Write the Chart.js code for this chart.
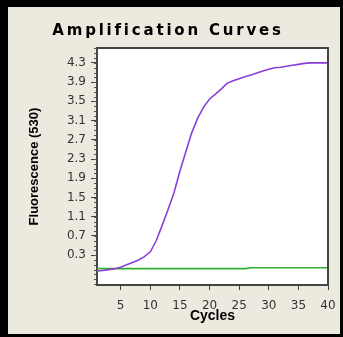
<!DOCTYPE html>
<html>
<head>
<meta charset="utf-8">
<script src="https://cdn.jsdelivr.net/npm/chart.js@4"></script>
<style>
  html, body { margin: 0; padding: 0; background: #000; }
  #frame {
    position: absolute; left: 8px; top: 7px;
    width: 332px; height: 327px;
    background: #ECE9DF;
  }
  canvas { display: block; }
</style>
</head>
<body>
<div id="frame"><canvas id="ampChart" width="332" height="327"></canvas></div>
<script>
// Cycle numbers and fluorescence readings
const cycles = [1, 2, 3, 4, 5, 6, 7, 8, 9, 10, 11, 12, 13, 14, 15, 16, 17, 18, 19, 20,
  21, 22, 23, 24, 25, 26, 27, 28, 29, 30, 31, 32, 33, 34, 35, 36, 37, 38, 39, 40];
const sampleCurve = [-0.03, -0.02, 0.0, 0.02, 0.05, 0.1, 0.15, 0.2, 0.27, 0.37,
  0.6, 0.92, 1.25, 1.6, 2.05, 2.45, 2.85, 3.15, 3.38, 3.55,
  3.65, 3.76, 3.88, 3.93, 3.97, 4.01, 4.05, 4.09, 4.13, 4.17,
  4.2, 4.21, 4.23, 4.25, 4.27, 4.29, 4.3, 4.3, 4.3, 4.3];
const controlCurve = [0.02, 0.02, 0.02, 0.02, 0.02, 0.02, 0.02, 0.02, 0.02, 0.02,
  0.02, 0.02, 0.02, 0.02, 0.02, 0.02, 0.02, 0.02, 0.02, 0.02,
  0.02, 0.02, 0.02, 0.02, 0.02, 0.02, 0.04, 0.04, 0.04, 0.04,
  0.04, 0.04, 0.04, 0.04, 0.04, 0.04, 0.04, 0.04, 0.04, 0.04];
const yTicks = [0.3, 0.7, 1.1, 1.5, 1.9, 2.3, 2.7, 3.1, 3.5, 3.9, 4.3];
const xTicks = [5, 10, 15, 20, 25, 30, 35, 40];

const toPoints = (ys) => ys.map((y, i) => ({ x: cycles[i], y: y }));

// white plot box, top/right frame lines and the small ruler ticks on the y axis
const plotBox = {
  id: 'plotBox',
  beforeDraw(chart) {
    // spaced-out heading like the original
    const tb = chart.titleBlock;
    if (tb && !tb._spaced) {
      const orig = tb.draw.bind(tb);
      tb.draw = function () {
        chart.ctx.save();
        chart.ctx.letterSpacing = '2.8px';
        orig();
        chart.ctx.letterSpacing = '0px';
        chart.ctx.restore();
      };
      tb._spaced = true;
    }
    const c = chart.ctx, a = chart.chartArea;
    c.save();
    c.fillStyle = '#ffffff';
    c.fillRect(a.left, a.top, a.right - a.left, a.bottom - a.top);
    c.restore();
  },
  afterDatasetsDraw(chart) {
    const c = chart.ctx, a = chart.chartArea;
    const y = chart.scales.y;
    c.save();
    c.strokeStyle = '#555555';
    c.lineWidth = 1;
    c.beginPath();
    for (let v = -3; v <= 46; v++) {
      const py = Math.round(y.getPixelForValue(v / 10)) + 0.5;
      if (py < a.top || py > a.bottom) continue;
      c.moveTo(a.left - 3, py);
      c.lineTo(a.left, py);
    }
    c.stroke();
    c.lineWidth = 2;
    c.strokeStyle = '#444444';
    c.beginPath();
    c.moveTo(a.left, a.top);
    c.lineTo(a.right, a.top);
    c.lineTo(a.right, a.bottom);
    c.stroke();
    c.restore();
  }
};

const canvas = document.getElementById('ampChart');
canvas.getContext('2d', { willReadFrequently: true });

const ampChart = new Chart(canvas, {
  type: 'line',
  data: {
    datasets: [{
      label: 'Sample',
      data: toPoints(sampleCurve),
      borderColor: '#8B3FD9',
      borderWidth: 1.6,
      pointRadius: 0,
      tension: 0
    }, {
      label: 'Control',
      data: toPoints(controlCurve),
      borderColor: '#2FAE2F',
      borderWidth: 1.6,
      pointRadius: 0,
      tension: 0
    }]
  },
  options: {
    responsive: false,
    animation: false,
    layout: { padding: { left: 0, right: 12, top: 0, bottom: 0 } },
    scales: {
      x: {
        type: 'linear',
        min: 1,
        max: 40,
        afterBuildTicks: (s) => { s.ticks = xTicks.map(v => ({ value: v })); },
        afterFit: (s) => { s.height = 49; s.paddingRight = 0; s.paddingLeft = 0; },
        border: { display: true, color: '#444444', width: 2 },
        grid: { display: true, drawOnChartArea: false, drawTicks: true, tickLength: 5, color: '#444444' },
        ticks: { color: '#333', padding: 9, font: { family: 'DejaVu Sans', size: 12 }, maxRotation: 0 },
        title: {
          display: true, text: 'Cycles', color: '#000',
          font: { family: 'Liberation Sans', size: 14, weight: 'bold' },
          padding: { top: 0, bottom: 9 }
        }
      },
      y: {
        type: 'linear',
        min: -0.32,
        max: 4.61,
        afterBuildTicks: (s) => { s.ticks = yTicks.map(v => ({ value: v })); },
        afterFit: (s) => { s.width = 89; },
        border: { display: true, color: '#444444', width: 2 },
        grid: { display: true, drawOnChartArea: false, drawTicks: true, tickLength: 6, color: '#444444' },
        ticks: {
          color: '#333', padding: 5, font: { family: 'DejaVu Sans', size: 12 },
          callback: (v) => Number(v).toFixed(1)
        },
        title: {
          display: true, text: 'Fluorescence (530)', color: '#000',
          font: { family: 'Liberation Sans', size: 13, weight: 'bold' },
          padding: { top: 19, bottom: 0 }
        }
      }
    },
    plugins: {
      legend: { display: false },
      tooltip: { enabled: false },
      title: {
        display: true,
        text: 'Amplification Curves',
        color: '#000',
        font: { family: 'DejaVu Sans', size: 15, weight: 'bold' },
        padding: { top: 15, bottom: 8 }
      }
    }
  },
  plugins: [plotBox]
});
</script>
</body>
</html>
